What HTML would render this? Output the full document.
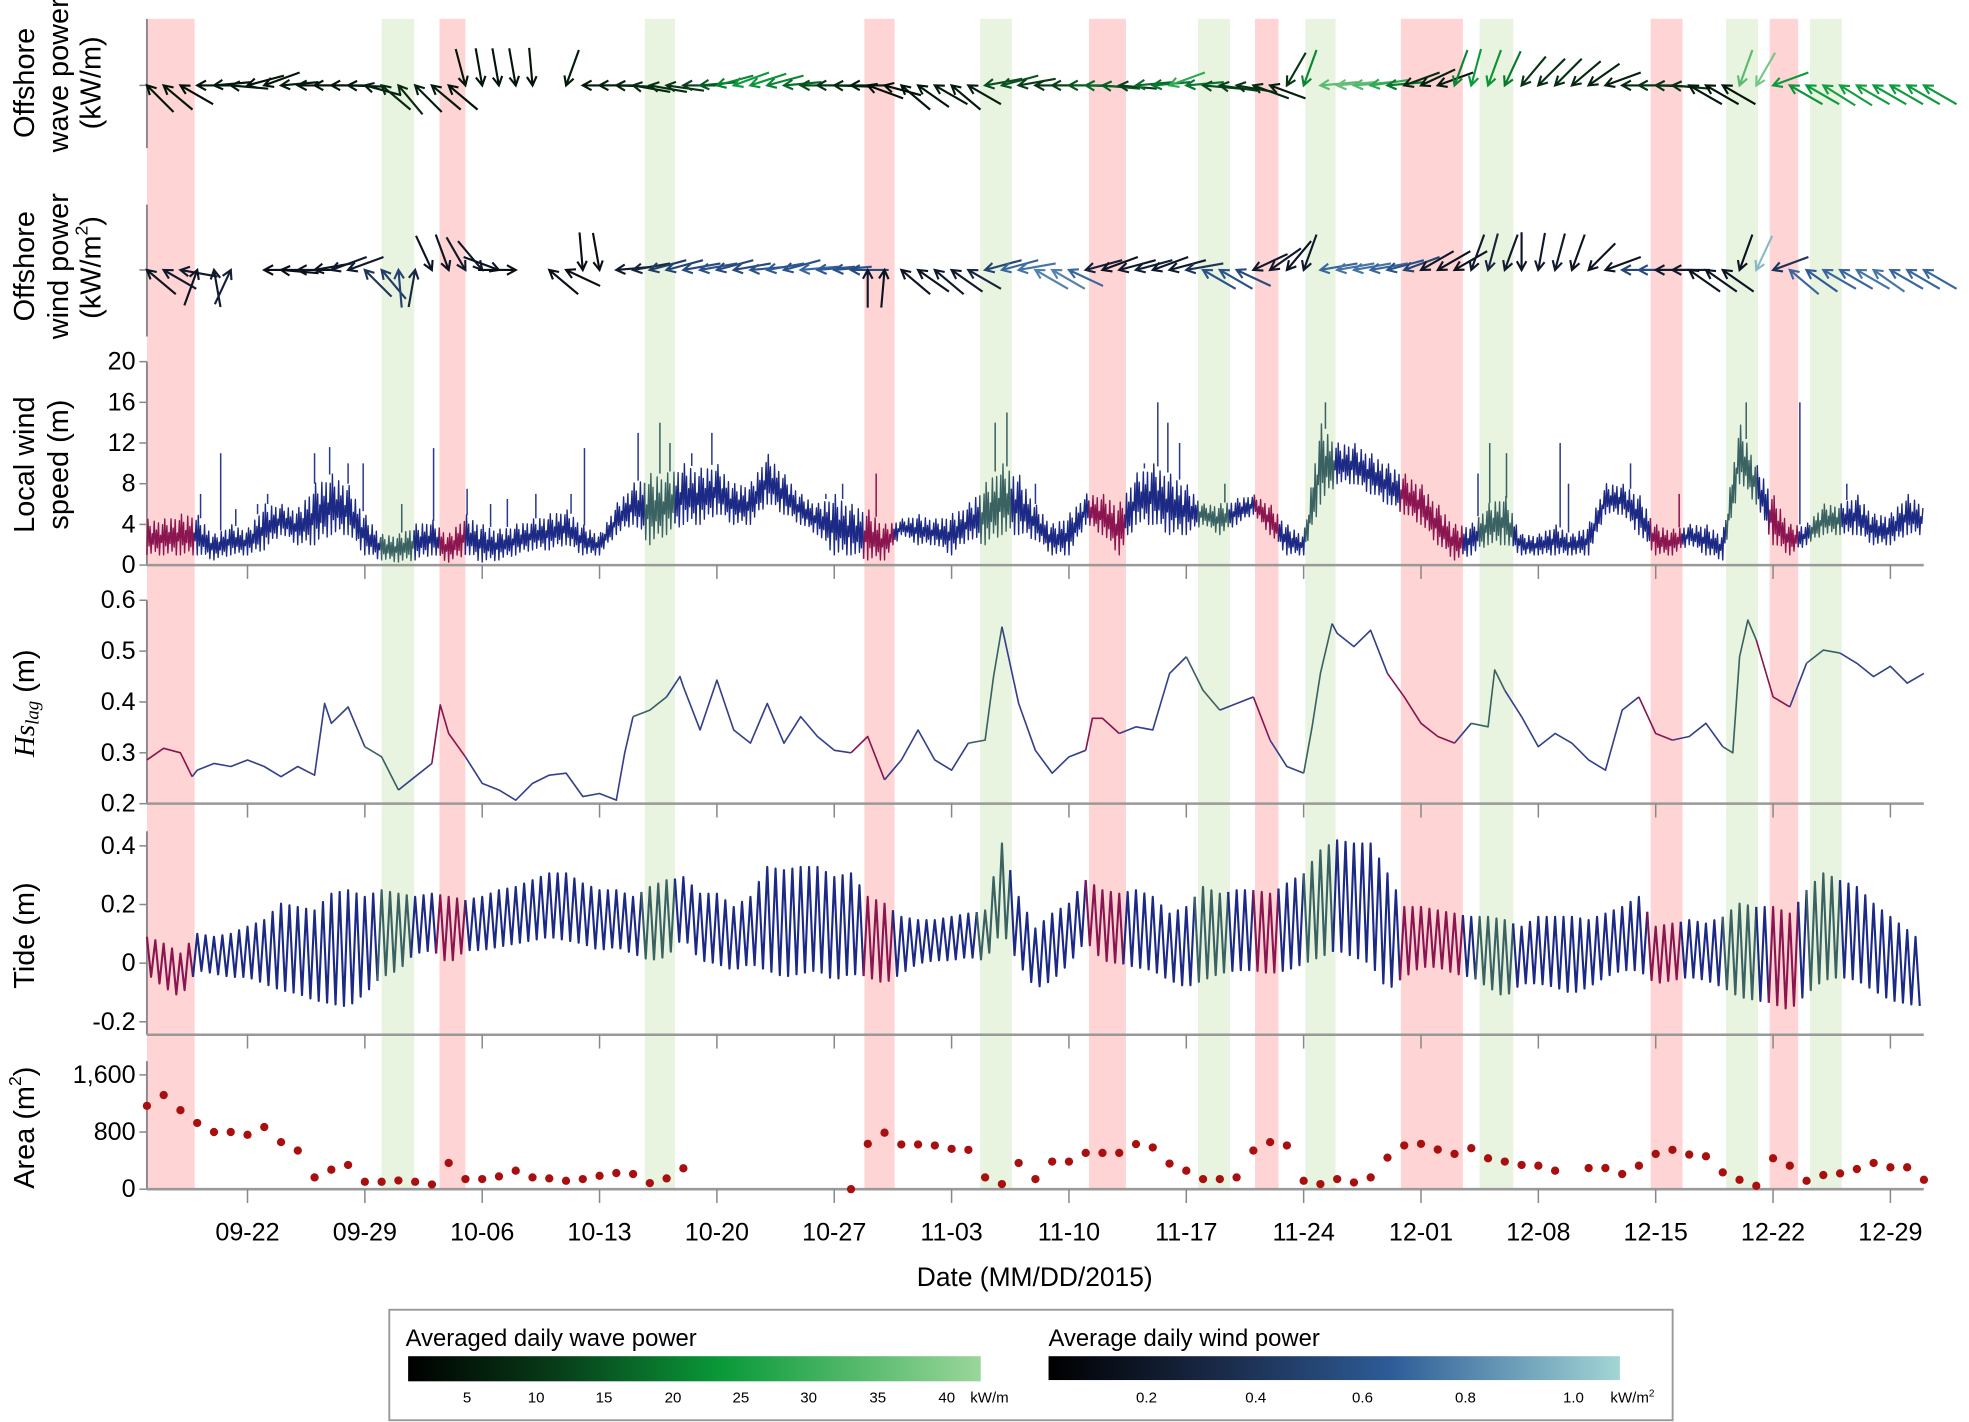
<!DOCTYPE html>
<html><head><meta charset="utf-8">
<style>
html,body{margin:0;padding:0;background:#fff;}
svg{display:block;font-family:"Liberation Sans",Arial,sans-serif;}
</style></head>
<body>
<svg id="chart" width="1969" height="1422" viewBox="0 0 1568 1132.4" preserveAspectRatio="none" xmlns="http://www.w3.org/2000/svg">
<defs>
<linearGradient id="gWave" x1="0" x2="1" y1="0" y2="0">
<stop offset="0" stop-color="#000"/><stop offset="0.25" stop-color="#083a18"/><stop offset="0.55" stop-color="#0a9a3a"/><stop offset="1" stop-color="#9ad69a"/>
</linearGradient>
<linearGradient id="gWind" x1="0" x2="1" y1="0" y2="0">
<stop offset="0" stop-color="#000"/><stop offset="0.3" stop-color="#1a2a48"/><stop offset="0.6" stop-color="#2e5c98"/><stop offset="1" stop-color="#a2d6d4"/>
</linearGradient>
</defs>
<g id="bands"></g>
<g id="axes"></g>
<g id="series"></g>
<g id="labels">
<text transform="translate(20,66) rotate(-90)" text-anchor="middle" dominant-baseline="central" font-size="23">Offshore</text>
<text transform="translate(47,60) rotate(-90)" text-anchor="middle" dominant-baseline="central" font-size="23">wave power</text>
<text transform="translate(73,66) rotate(-90)" text-anchor="middle" dominant-baseline="central" font-size="23">(kW/m)</text>
<text transform="translate(20,212) rotate(-90)" text-anchor="middle" dominant-baseline="central" font-size="23">Offshore</text>
<text transform="translate(47,212) rotate(-90)" text-anchor="middle" dominant-baseline="central" font-size="23">wind power</text>
<text transform="translate(73,213) rotate(-90)" text-anchor="middle" dominant-baseline="central" font-size="23">(kW/m<tspan font-size="14" dy="-8">2</tspan><tspan dy="8">)</tspan></text>
<text transform="translate(20,370) rotate(-90)" text-anchor="middle" dominant-baseline="central" font-size="23">Local wind</text>
<text transform="translate(47,370) rotate(-90)" text-anchor="middle" dominant-baseline="central" font-size="23">speed (m)</text>
<text transform="translate(20,560) rotate(-90)" text-anchor="middle" dominant-baseline="central" font-size="23"><tspan font-family="Liberation Serif,serif" font-style="italic">Hs<tspan font-size="15" dy="6">lag</tspan></tspan><tspan dy="-6"> (m)</tspan></text>
<text transform="translate(20,745) rotate(-90)" text-anchor="middle" dominant-baseline="central" font-size="23">Tide (m)</text>
<text transform="translate(20,898) rotate(-90)" text-anchor="middle" dominant-baseline="central" font-size="23">Area (m<tspan font-size="14" dy="-8">2</tspan><tspan dy="8">)</tspan></text>
<text x="824" y="1024" text-anchor="middle" font-size="21">Date (MM/DD/2015)</text>
</g>
<g id="legend">
<rect x="310" y="1043" width="1022" height="88" fill="#fff" stroke="#999" stroke-width="1.5"/>
<text x="323" y="1072" font-size="19">Averaged daily wave power</text>
<rect x="325" y="1080" width="456" height="20" fill="url(#gWave)"/>
<text x="835" y="1072" font-size="19">Average daily wind power</text>
<rect x="835" y="1080" width="455" height="19" fill="url(#gWind)"/>
<g id="legticks" font-size="12"></g>
</g>
</svg>
<script>
var NS='http://www.w3.org/2000/svg';
// ---- data ----
var weekLabels=['09-22','09-29','10-06','10-13','10-20','10-27','11-03','11-10','11-17','11-24','12-01','12-08','12-15','12-22','12-29'];
var redBands=[[0,2.85],[17.45,19.0],[42.8,44.6],[56.2,58.4],[66.1,67.5],[74.8,78.5],[89.7,91.6],[96.8,98.5]];
var greenBands=[[14.0,15.95],[29.7,31.5],[49.7,51.6],[62.7,64.6],[69.1,70.9],[79.5,81.5],[94.2,96.1],[99.2,101.1]];
var windLo=[1,1,1,1,0.5,1,1,1.5,3,2,2,3,3,1,0.5,0.3,0.5,1,0.3,1,0.3,0.5,1,1.5,1.5,2,1,1,3,4,2,3,4,4,5,4,4,6,5,4,3,1,1,0.5,0.5,3,2,2,1,2.5,2,3,3,2.5,1,1,4,3,1,4,4,3,3,4,3,4,5,3,1,1,6,8,8,7,6,5,4,2,0.5,1,2,2,1,1,1,1,1,5,5,3,1,1,2,1,0.5,8,6,2,1,2,3,3,3,2,2,3,3];
var windHi=[4.5,4.5,5,5,3,4,3.5,6,6,5.5,8,9,8,5,3,3,4,4.5,3,5,4,3.5,4,4.5,5,5.5,4,3,6,8,9,9,10,9.5,10,8,8,11,9,7,6,7,6,5.5,4,4.5,5,4.5,5,6,8,10,9,6,4,5,7,7,6,9,10,9,8,6,6,6.5,7,6,4,3,14,12,12,11,10,9,8,6,4,4,6,7,3,3,4,3,4,8,8,7,4,3.5,4,4,3,14,10,7,4,4,6,6,7,5,5,7,6];
var spikeDay=[3.2,4.4,5.3,6.6,7.2,10.0,10.9,12.0,12.9,15.2,17.1,19.1,20.5,21.5,23.2,25.3,26.1,29.3,30.6,31.2,32.5,33.7,40.5,41.5,43.5,50.6,51.3,53.0,59.5,60.3,60.9,61.6,64.3,70.3,79.4,80.1,81.1,84.3,84.8,88.5,91.4,95.4,98.6,101.4];
var spikeVal=[7,11,5.5,6,7,11,11.6,10,10,6,11.5,7.5,6,6.5,7,7,11.5,13,14,12,11,13,7,8,9,14,15,8,10,16,14,12,8,16,9,12,11,12,8,10,7,16,16,8];
var hsDay=[0,1,2,2.7,3,4,5,6,7,8,9,10,10.6,11,12,13,14,15,16,17,17.5,18,19,20,21,22,23,24,25,26,27,28,28.5,29,30,31,31.8,32,33,34,35,36,37,38,39,40,41,42,43,44,45,46,47,48,49,50,50.5,51,52,53,54,55,56,56.4,57,58,59,60,61,62,63,64,65,66,67,68,69,69.5,70,70.7,71,72,73,74,75,76,77,78,79,80,80.4,81,82,83,84,85,86,87,88,89,90,91,92,93,94,94.6,95,95.5,96,97,98,99,100,101,102,103,104,105,106];
var hsVal=[.286,.309,.30,.253,.266,.279,.273,.286,.273,.253,.273,.256,.397,.358,.39,.312,.292,.227,.253,.279,.394,.338,.292,.24,.227,.207,.24,.256,.26,.214,.22,.207,.30,.371,.384,.41,.45,.43,.345,.443,.345,.319,.397,.319,.371,.332,.305,.30,.332,.247,.286,.345,.286,.266,.319,.325,.45,.548,.397,.305,.26,.292,.305,.368,.368,.338,.351,.345,.456,.489,.423,.384,.397,.41,.325,.273,.26,.35,.456,.554,.535,.509,.541,.456,.41,.358,.332,.319,.358,.351,.463,.423,.371,.312,.338,.319,.286,.266,.384,.41,.338,.325,.332,.358,.312,.30,.489,.561,.522,.41,.39,.476,.502,.496,.476,.45,.47,.437,.456];
var tideHi=[.09,.067,.033,.10,.09,.10,.124,.147,.203,.192,.18,.237,.249,.226,.249,.237,.226,.237,.226,.215,.226,.249,.26,.283,.306,.306,.272,.249,.249,.226,.26,.283,.294,.237,.237,.192,.226,.328,.317,.328,.328,.294,.306,.226,.203,.158,.147,.147,.158,.169,.18,.408,.226,.118,.169,.203,.283,.249,.237,.249,.226,.169,.192,.26,.237,.249,.249,.237,.272,.306,.385,.419,.408,.408,.306,.192,.192,.18,.169,.158,.158,.147,.124,.158,.158,.158,.147,.169,.192,.226,.124,.135,.147,.135,.158,.203,.192,.192,.169,.249,.306,.283,.26,.203,.158,.113,.067];
var tideLo=[-.035,-.081,-.115,-.024,-.035,-.047,-.047,-.069,-.092,-.103,-.126,-.138,-.149,-.103,-.047,-.024,.033,.044,-.001,.044,.044,.056,.067,.078,.09,.078,.067,.044,.056,.033,.01,.022,.09,.01,-.001,-.024,-.001,-.024,-.047,-.035,-.024,-.058,-.035,-.047,-.069,-.035,-.001,.01,.01,.022,.01,.113,-.001,-.086,-.058,-.001,.078,.01,-.001,-.013,-.024,-.058,-.081,-.058,-.035,-.024,-.024,-.035,-.024,-.001,.022,.044,.022,-.001,-.092,-.047,-.013,-.013,-.035,-.047,-.081,-.115,-.069,-.069,-.081,-.103,-.081,-.047,-.024,-.024,-.069,-.058,-.047,-.058,-.081,-.115,-.126,-.138,-.16,-.103,-.058,-.047,-.058,-.092,-.126,-.138,-.149];
var areaDay=[0,1,2,3,4,5,6,7,8,9,10,11,12,13,14,15,16,17,18,19,20,21,22,23,24,25,26,27,28,29,30,31,32,42,43,44,45,46,47,48,49,50,51,52,53,54,55,56,57,58,59,60,61,62,63,64,65,66,67,68,69,70,71,72,73,74,75,76,77,78,79,80,81,82,83,84,86,87,88,89,90,91,92,93,94,95,96,97,98,99,100,101,102,103,104,105,106];
var areaVal=[1167,1318,1106,927,800,800,762,870,659,541,165,273,339,104,104,122,104,66,367,141,141,179,259,165,151,118,141,188,226,212,85,151,292,0,635,791,626,626,612,565,551,165,71,367,141,386,386,508,508,508,631,584,358,259,141,141,165,541,659,612,118,71,141,94,165,442,612,635,555,494,574,433,386,339,329,259,296,296,212,329,494,551,485,461,235,132,47,433,329,118,198,221,282,367,306,306,132];
var waveDir=[135,140,150,180,185,175,195,200,185,180,180,180,178,165,140,130,135,140,140,285,280,280,280,275,null,250,180,180,178,170,170,172,180,185,195,200,198,195,185,180,180,178,180,160,165,140,145,150,140,150,190,195,190,180,180,180,178,175,175,185,185,200,185,175,172,170,160,160,240,250,185,185,185,188,185,200,205,200,250,255,250,245,230,225,225,220,215,200,180,180,178,175,150,150,150,250,240,200,150,150,148,148,150,150,150,150,150];
var wavePow=[4,4,3,4,5,5,4,4,5,5,4,4,5,6,8,8,6,5,3,4,4,4,4,4,4,5,5,6,7,8,9,10,12,16,22,25,24,22,18,14,10,8,6,3,3,4,4,5,5,6,14,15,12,10,12,15,18,16,12,18,20,30,20,14,12,10,8,6,10,22,36,38,35,30,20,8,6,5,22,25,24,20,10,9,9,8,7,6,8,10,10,9,5,4,4,36,40,25,24,25,26,26,26,25,25,25,25];
var windDir=[140,150,170,70,100,65,null,180,175,180,190,200,200,135,130,95,80,295,290,300,310,340,0,null,140,155,275,280,185,190,195,195,190,190,195,190,185,190,195,185,185,185,180,90,85,140,145,140,145,150,195,195,190,150,150,155,195,200,195,195,200,195,190,150,150,155,205,215,230,250,190,190,190,190,195,200,210,210,210,250,255,250,270,260,255,250,225,200,180,180,180,180,145,145,145,250,245,200,140,145,150,150,150,145,150,150,150];
var windPow=[0.15,0.2,0.2,0.15,0.2,0.25,0,0.1,0.1,0.15,0.15,0.2,0.2,0.4,0.45,0.5,0.3,0.15,0.15,0.2,0.2,0.15,0.1,0,0.1,0.1,0.1,0.1,0.2,0.3,0.45,0.5,0.55,0.6,0.55,0.55,0.6,0.65,0.6,0.7,0.65,0.6,0.55,0.2,0.15,0.15,0.15,0.2,0.2,0.3,0.5,0.7,0.75,0.8,0.8,0.7,0.25,0.15,0.2,0.25,0.2,0.2,0.4,0.6,0.6,0.55,0.2,0.2,0.15,0.2,0.7,0.75,0.75,0.7,0.6,0.5,0.2,0.15,0.15,0.2,0.3,0.2,0.15,0.2,0.2,0.15,0.15,0.15,0.5,0.55,0.2,0.2,0.15,0.15,0.15,0.15,1.0,0.4,0.7,0.65,0.7,0.7,0.75,0.75,0.7,0.7,0.7];
// ---- scales ----
function X(d){return 117+d*13.35;}
function yWind(v){return 450-v*8.1;}
function yHs(v){return 640-(v-0.2)*405;}
function yTide(v){return 767-v*233.5;}
function yArea(v){return 947-v*0.056875;}
function mk(tag,attrs,parent){var e=document.createElementNS(NS,tag);for(var k in attrs)e.setAttribute(k,attrs[k]);parent.appendChild(e);return e;}
function inBand(d,b){for(var i=0;i<b.length;i++){if(d>=b[i][0]&&d<=b[i][1])return true;}return false;}
function segColor(d,base){if(inBand(d,redBands))return '#8a1550';if(inBand(d,greenBands))return '#3b6262';return base;}
var bandsG=document.getElementById('bands'),axesG=document.getElementById('axes'),serG=document.getElementById('series');
redBands.forEach(function(b,i){var r=mk('rect',{x:X(b[0]),y:15,width:X(b[1])-X(b[0]),height:932,fill:'#ffd4d4'},bandsG);

});
greenBands.forEach(function(b,i){var r=mk('rect',{x:X(b[0]),y:15,width:X(b[1])-X(b[0]),height:932,fill:'#e8f3e0'},bandsG);

});
function hline(y,name){var l=mk('line',{x1:117,x2:1532,y1:y,y2:y,stroke:'#999',"stroke-width":2},axesG);


weekLabels.forEach(function(w,i){mk('line',{x1:X(6+7*i),x2:X(6+7*i),y1:y,y2:y+11,stroke:'#888',"stroke-width":1.2},axesG);});}
function vaxis(y1,y2,ticks,fn,labels,name){var l=mk('line',{x1:117,x2:117,y1:y1,y2:y2,stroke:'#888',"stroke-width":1.5},axesG);


ticks.forEach(function(t,i){var y=fn(t);mk('line',{x1:111,x2:117,y1:y,y2:y,stroke:'#888',"stroke-width":1.2},axesG);
if(labels){var tx=mk('text',{x:108,y:y,"text-anchor":"end","dominant-baseline":"central","font-size":20},axesG);tx.textContent=labels[i];

}});}
vaxis(15,118,[0],function(){return 68;},null,'wave-y-axis');
vaxis(163,268,[0],function(){return 215;},null,'wind-y-axis');
vaxis(288,450,[0,4,8,12,16,20],yWind,['0','4','8','12','16','20'],'wind-speed-y-axis');
vaxis(478,640,[0.2,0.3,0.4,0.5,0.6],yHs,['0.2','0.3','0.4','0.5','0.6'],'hs-y-axis');
vaxis(662,824,[-0.2,0,0.2,0.4],yTide,['-0.2','0','0.2','0.4'],'tide-y-axis');
vaxis(845,947,[0,800,1600],yArea,['0','800','1,600'],'area-y-axis');
hline(450,'wind-speed-x-axis');hline(640,'hs-x-axis');hline(824,'tide-x-axis');hline(947,'area-x-axis');
weekLabels.forEach(function(w,i){var t=mk('text',{x:X(6+7*i),y:988,"text-anchor":"middle","font-size":20},axesG);t.textContent=w;

});
function drawColored(pts,base,width,name){var g=mk('g',{},serG);


var cur=null,buf=[];function flush(){if(buf.length>1)mk('polyline',{points:buf.map(function(p){return p[0].toFixed(1)+','+p[1].toFixed(1);}).join(' '),fill:'none',stroke:cur,"stroke-width":width,"stroke-linejoin":"round"},g);}
pts.forEach(function(p){var c=segColor(p[2],base);if(c!==cur){if(buf.length){var last=buf[buf.length-1];flush();buf=[last];}cur=c;}buf.push(p);});flush();return g;}
// wind speed: dense scribble between daily low/high envelopes
var scrib=[0,1,0.25,0.8,0.05,0.6,0.3,0.95,0.1,0.7,0.2,0.9,0,0.55,0.35,0.85];
var wp=[],K=16;
for(var d=0;d<106;d++){for(var j=0;j<K;j++){var f=j/K,dd=d+f;var lo=windLo[d]+(windLo[d+1]-windLo[d])*f,hi=windHi[d]+(windHi[d+1]-windHi[d])*f;var v=lo+(hi-lo)*scrib[j];wp.push([X(dd),yWind(v),dd]);}}
var wg=drawColored(wp,'#1c2a86',1.1,'local-wind-speed-line');
spikeDay.forEach(function(sd,i){var d=Math.floor(sd),f=sd-d;var hi=windHi[d]+(windHi[d+1]-windHi[d])*f;var l=mk('line',{x1:X(sd),x2:X(sd),y1:yWind(hi),y2:yWind(spikeVal[i]),stroke:segColor(sd,'#2a3a8a'),"stroke-width":1.2},wg);

});
var hp=hsDay.map(function(d,i){return [X(d),yHs(hsVal[i]),d];});
drawColored(hp,'#34418a',1.3,'hs-lag-line');
var tp=[];
for(var d2=0;d2<106;d2++){for(var j2=0;j2<4;j2++){var f2=j2/4,dd2=d2+f2;var hi2=tideHi[d2]+(tideHi[d2+1]-tideHi[d2])*f2,lo2=tideLo[d2]+(tideLo[d2+1]-tideLo[d2])*f2;tp.push([X(dd2),yTide(j2%2===0?hi2:lo2),dd2]);}}
drawColored(tp,'#1c2a86',1.7,'tide-line');
var ag=mk('g',{},serG);


areaDay.forEach(function(d,i){var c=mk('circle',{cx:X(d),cy:yArea(areaVal[i]),r:3.3,fill:'#a8100f'},ag);

});
function lerpStops(stops,t){t=Math.max(0,Math.min(1,t));for(var i=1;i<stops.length;i++){if(t<=stops[i][0]){var a=stops[i-1],b=stops[i],u=(t-a[0])/(b[0]-a[0]);return 'rgb('+[1,2,3].map(function(k){return Math.round(a[k]+(b[k]-a[k])*u);}).join(',')+')';}}var s=stops[stops.length-1];return 'rgb('+s[1]+','+s[2]+','+s[3]+')';}
var waveStops=[[0,0,0,0],[0.25,8,58,24],[0.55,10,154,58],[1,154,214,154]];
var windStops=[[0,0,0,0],[0.3,26,42,72],[0.6,46,92,152],[1,162,214,212]];
function arrows(dirs,pows,y0,stops,maxP,name){var g=mk('g',{},serG);


var L=30,H=8;dirs.forEach(function(a,d){if(a===null)return;var r=a*Math.PI/180,tx=X(d),ty=y0;var sx=tx-L*Math.cos(r),sy=ty+L*Math.sin(r);var c=lerpStops(stops,pows[d]/maxP);
var b1=r+Math.PI-0.5,b2=r+Math.PI+0.5;
var p=mk('path',{d:'M'+sx.toFixed(1)+','+sy.toFixed(1)+'L'+tx.toFixed(1)+','+ty.toFixed(1)+'M'+(tx+H*Math.cos(b1)).toFixed(1)+','+(ty-H*Math.sin(b1)).toFixed(1)+'L'+tx.toFixed(1)+','+ty.toFixed(1)+'L'+(tx+H*Math.cos(b2)).toFixed(1)+','+(ty-H*Math.sin(b2)).toFixed(1),fill:'none',stroke:c,"stroke-width":1.7},g);

});}
arrows(waveDir,wavePow,68,waveStops,45,'wave-power-arrows');
arrows(windDir,windPow,215,windStops,1.1,'wind-power-arrows');
var lt=document.getElementById('legticks');
var waveTickVals=['5','10','15','20','25','30','35','40','kW/m'];var waveTickX=[372,427,481,536,590,644,699,754,788];
waveTickVals.forEach(function(s,i){var t=mk('text',{x:waveTickX[i],y:1117,"text-anchor":"middle"},lt);t.textContent=s;

});
var windTickVals=['0.2','0.4','0.6','0.8','1.0'];var windTickX=[913,1000,1085,1167,1253];
windTickVals.forEach(function(s,i){var t=mk('text',{x:windTickX[i],y:1117,"text-anchor":"middle"},lt);t.textContent=s;

});
var ku=mk('text',{x:1300,y:1117,"text-anchor":"middle"},lt);ku.innerHTML='kW/m<tspan font-size="8" dy="-5">2</tspan>';


</script>
</body></html>
